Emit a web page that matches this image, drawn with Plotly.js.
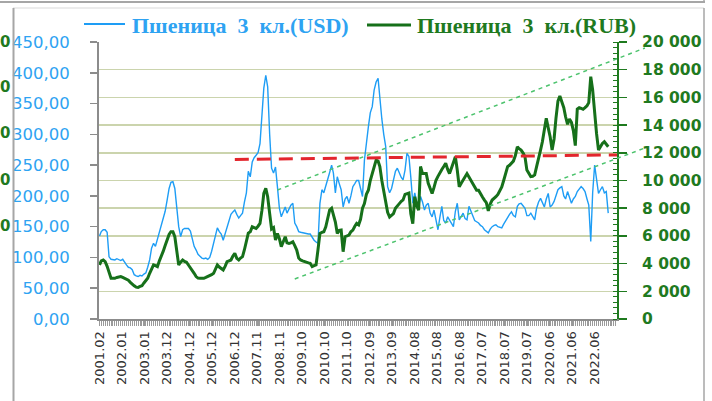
<!DOCTYPE html>
<html><head><meta charset="utf-8">
<script src="https://cdn.plot.ly/plotly-3.0.1.min.js"></script>
<style>html,body{margin:0;padding:0;background:#fff;overflow:hidden;} #chart{width:712px;height:401px;}</style>
</head><body><div id="chart"></div>
<script>
// ---- data (monthly, starting 2001-02) ----
const startYear = 2001, startMonthIndex = 1; // February
const usd = [
135,142,145,145,141,101,97,97,96,98,
97,95,97,92,88,84,83,80,72,70,
69,71,70,73,75,84,96,115,123,118,
130,142,152,162,175,193,212,222,223,212,
182,150,134,145,147,147,147,143,128,118,
112,105,102,99,98,99,97,100,110,122,
135,148,142,138,128,138,150,160,170,174,
177,170,164,168,172,190,205,240,231,255,
262,266,270,285,340,375,396,377,300,245,
237,247,215,180,166,175,182,172,178,185,
188,156,150,142,141,140,140,139,138,138,
132,128,125,123,188,210,205,215,226,238,
250,237,205,231,220,210,182,195,199,188,
200,215,220,225,225,210,199,258,290,312,
335,345,372,385,391,356,325,300,280,215,
205,212,226,240,245,237,230,226,242,269,
264,230,188,205,190,182,199,190,177,185,
188,172,166,177,160,145,165,183,160,156,
166,160,155,150,175,188,161,168,172,163,
161,183,175,166,160,158,156,152,150,145,
142,140,146,150,152,153,150,149,148,154,
160,166,170,174,168,166,183,187,188,184,
180,168,168,172,167,161,180,190,196,188,
182,195,204,182,185,191,200,210,213,215,
200,195,207,196,188,195,199,207,212,215,
212,207,195,185,126,205,250,225,204,210,
215,205,207,172];
const rub = [
3900,4200,4260,4140,3800,3300,2940,2950,2940,3000,
3050,3060,3000,2950,2900,2800,2650,2500,2400,2300,
2280,2350,2400,2600,2800,2940,3300,3600,3900,3850,
3780,4200,4500,4900,5300,5700,6100,6300,6300,5940,
4900,3900,4100,4260,4150,4100,3900,3700,3540,3300,
3060,2950,2940,2940,2940,3000,3050,3100,3200,3300,
3700,3900,3750,3660,3540,3800,4140,4200,4260,4550,
4740,4380,4260,4400,4500,5000,5700,6200,6300,6660,
6600,6540,6700,6900,7860,9070,9430,8830,7630,6500,
6600,5700,6180,5800,5220,5600,5940,5500,5460,5500,
5580,5300,4980,4400,4260,4200,4140,4100,4050,4020,
3780,3850,3900,4980,6180,6250,6300,6660,7300,7870,
8000,7600,7000,6180,6400,6420,4860,5940,6000,6060,
6300,6420,6700,6900,6800,7200,8000,8330,9000,9300,
10000,10500,10980,11470,11400,11000,10000,9300,8300,7700,
7360,7500,7610,8000,8200,8330,8500,8600,9000,9060,
9100,7600,6880,8830,8200,7850,11010,10500,10500,10500,
9800,9400,9060,9500,10020,10300,10500,10800,11010,11250,
10800,10500,10900,11250,11720,10740,9540,9800,10020,10300,
10500,10260,10000,9780,9500,9300,9300,9100,8810,8590,
8400,7800,8300,8590,8700,8830,9000,9300,9530,10000,
10500,11000,11100,11240,11400,11800,12440,12300,12200,12000,
11720,10760,10500,10280,10300,10400,11000,11720,12200,12800,
13600,14500,13800,13160,12200,13000,14500,15740,16100,15700,
15260,14600,14060,14440,14200,13600,12520,15160,15260,15200,
15140,15260,15400,15620,17500,16540,14600,13400,12200,12500,
12680,12800,12600,12440];
const tickLabels = ['2001.02','2002.01','2003.01','2003.12','2004.12','2005.12','2006.12','2007.11','2008.11','2009.10','2010.10','2011.10','2012.09','2013.09','2014.08','2015.08','2016.08','2017.07','2018.07','2019.07','2020.06','2021.06','2022.06'];
const firstLabelDate = '2001-02-01', lastLabelDate = '2022-06-01';
const seriesNames = ['Пшеница  3  кл.(USD)', 'Пшеница  3  кл.(RUB)'];
// channel and level lines: [date, RUB]
const channelUpper = [['2008-10-01', 9310], ['2024-08-01', 19570]];
const channelLower = [['2009-07-01', 2890], ['2024-08-01', 12350]];
const levelLine = [['2006-12-01', 11520], ['2023-07-01', 11850]];
const xRange = ['2001-01-24', '2023-05-19'];
const usdRange = [0, 450], rubRange = [0, 20000];

// ---- build ----
function monthDate(i){
  const k = startMonthIndex + i;
  const y = startYear + Math.floor(k/12), m = (k%12)+1;
  return y + '-' + String(m).padStart(2,'0') + '-01';
}
const dates = usd.map((_, i) => monthDate(i));
const t0 = Date.parse(firstLabelDate), t1 = Date.parse(lastLabelDate);
const toStr = ms => new Date(ms).toISOString().slice(0,19).replace('T',' ');
const tickVals = tickLabels.map((_, k) => toStr(t0 + k*(t1-t0)/(tickLabels.length-1)));

const W = 712, H = 401, L = 99, R = 95, T = 42, B = 82;
const pw = W - L - R, ph = H - T - B;
const px2x = px => (px - L)/pw, py2y = py => (H - B - py)/ph;
const r0 = Date.parse(xRange[0]), r1 = Date.parse(xRange[1]);
const d2x = d => (Date.parse(d) - r0)/(r1 - r0);
const v2y = v => (v - rubRange[0])/(rubRange[1]-rubRange[0]);

const blue = '#1e9df5', green = '#16701a', blueText = '#2ea3f2', greenText = '#1f7a1f';

const traces = [
  {x: dates, y: usd, type: 'scatter', mode: 'lines', name: seriesNames[0], yaxis: 'y',
   line: {color: blue, width: 1.4}, hoverinfo: 'skip', showlegend: false},
  {x: dates, y: rub, type: 'scatter', mode: 'lines', name: seriesNames[1], yaxis: 'y2',
   line: {color: green, width: 3}, hoverinfo: 'skip', showlegend: false}
];

const chanStyle = {color: '#4cc36d', width: 1.5, dash: '4px,4px'};
const shapes = [
  {type:'line', xref:'paper', yref:'paper', x0: d2x(channelUpper[0][0]), y0: v2y(channelUpper[0][1]), x1: d2x(channelUpper[1][0]), y1: v2y(channelUpper[1][1]), line: chanStyle, layer:'above'},
  {type:'line', xref:'paper', yref:'paper', x0: d2x(channelLower[0][0]), y0: v2y(channelLower[0][1]), x1: d2x(channelLower[1][0]), y1: v2y(channelLower[1][1]), line: chanStyle, layer:'above'},
  {type:'line', xref:'x', yref:'y2', x0: levelLine[0][0], y0: levelLine[0][1], x1: levelLine[1][0], y1: levelLine[1][1], line: {color:'#e3262d', width:3, dash:'14px,8px'}, layer:'above'},
  // legend samples
  {type:'line', xref:'paper', yref:'paper', x0: px2x(84), x1: px2x(125), y0: py2y(24), y1: py2y(24), line:{color: blue, width:2}},
  {type:'line', xref:'paper', yref:'paper', x0: px2x(367), x1: px2x(411), y0: py2y(25), y1: py2y(25), line:{color: green, width:3}},
  // frame
  {type:'line', xref:'paper', yref:'paper', x0: px2x(0), x1: px2x(705), y0: py2y(2), y1: py2y(2), line:{color:'#a6a6a6', width:2}},
  {type:'line', xref:'paper', yref:'paper', x0: px2x(704), x1: px2x(704), y0: py2y(0), y1: py2y(3), line:{color:'#a6a6a6', width:1.5}},
  {type:'line', xref:'paper', yref:'paper', x0: px2x(13), x1: px2x(704), y0: py2y(8), y1: py2y(8), line:{color:'#d9d9d9', width:1}},
  {type:'line', xref:'paper', yref:'paper', x0: px2x(13.5), x1: px2x(13.5), y0: py2y(8), y1: py2y(402), line:{color:'#a6a6a6', width:2}},
  {type:'line', xref:'paper', yref:'paper', x0: px2x(704), x1: px2x(704), y0: py2y(8), y1: py2y(402), line:{color:'#a6a6a6', width:1.5}}
];

const legFont = (c) => ({family: 'Liberation Serif', size: 22, color: c, weight: 'bold'});
const annotations = [
  {xref:'paper', yref:'paper', x: px2x(130), y: py2y(25), xanchor:'left', yanchor:'middle', text: seriesNames[0], showarrow:false, font: legFont(blueText)},
  {xref:'paper', yref:'paper', x: px2x(415), y: py2y(25), xanchor:'left', yanchor:'middle', text: seriesNames[1], showarrow:false, font: legFont(greenText)}
];
[42, 87, 133, 180, 226].forEach(py => annotations.push({xref:'paper', yref:'paper', x: px2x(-1), y: py2y(py), xanchor:'left', yanchor:'middle', text:'0', showarrow:false, borderpad:0, font:{family:'DejaVu Sans', size:15, color: greenText, weight:'bold'}}));

const layout = {
  width: W, height: H, margin: {l: L, r: R, t: T, b: B, pad: 0},
  paper_bgcolor: '#ffffff', plot_bgcolor: '#ffffff',
  separators: ', ',
  showlegend: false, hovermode: false,
  xaxis: {type:'date', range: xRange, tickmode:'array', tickvals: tickVals, ticktext: tickLabels,
    tickangle: -90, tickfont: {family:'DejaVu Sans', size: 13, color:'#333333'},
    showline: true, linecolor:'#8c8c8c', linewidth: 2, ticks:'outside', ticklen: 5, tickcolor:'#9a9a9a', tickwidth: 1,
    minor: {dtick:'M1', ticks:'outside', ticklen: 5, tickcolor:'#9a9a9a', tickwidth: 1, showgrid:false},
    showgrid:false, zeroline:false, fixedrange:true},
  yaxis: {range: usdRange, dtick: 50, tick0: 0, tickformat: '.2f', showgrid:false, zeroline:false,
    showline:true, linecolor:'#8c8c8c', linewidth: 2, ticks:'outside', ticklen: 7, tickcolor:'#8c8c8c', tickwidth: 1.5,
    tickfont: {family:'DejaVu Sans', size: 16.5, color: blueText}, ticklabelstandoff: 17, fixedrange:true},
  yaxis2: {overlaying:'y', side:'right', range: rubRange, dtick: 2000, tick0: 0, tickformat: ',d',
    showgrid:true, gridcolor:'#cbd4ad', gridwidth: 1.5, zeroline:false,
    showline:true, linecolor: greenText, linewidth: 2, ticks:'outside', ticklen: 8, tickcolor: greenText, tickwidth: 1.5,
    minor: {dtick: 400, ticks:'inside', ticklen: 4, tickcolor: greenText, tickwidth: 1, showgrid:false},
    tickfont: {family:'DejaVu Sans', size: 15.5, color: greenText, weight:'bold'}, ticklabelstandoff: 12, fixedrange:true},
  shapes: shapes, annotations: annotations
};
Plotly.newPlot('chart', traces, layout, {staticPlot: true, displayModeBar: false});
</script></body></html>
